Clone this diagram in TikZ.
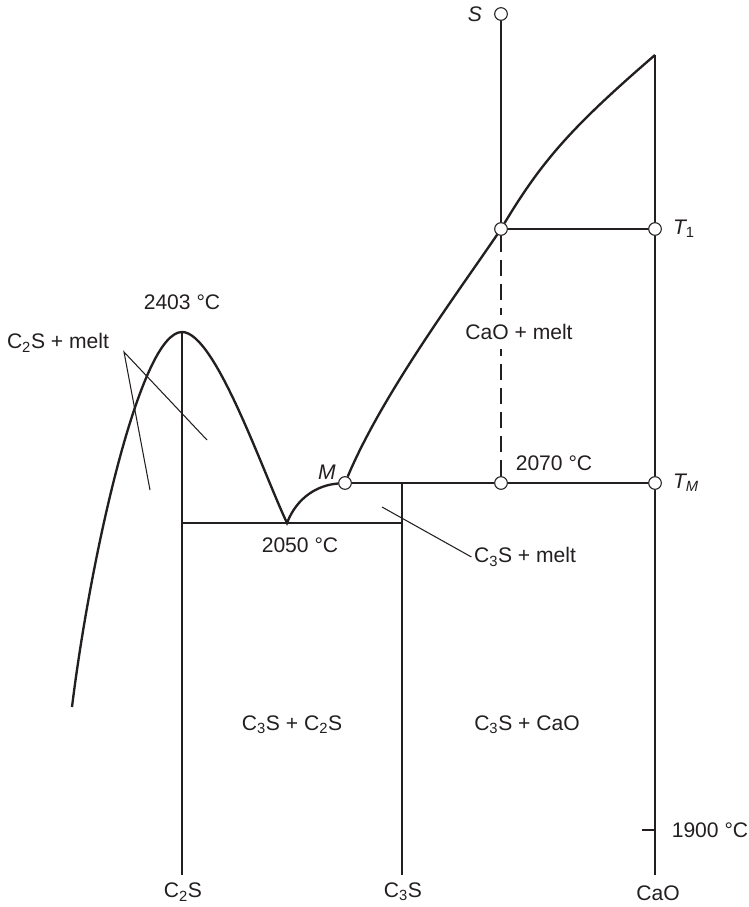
\documentclass[tikz,border=0pt]{standalone}
\usepackage{fontspec}
\setmainfont{Liberation Sans}
\usetikzlibrary{positioning}
\definecolor{PDInk}{HTML}{231F20}
\tikzset{
  tie/.style={PDInk,line width=1.1pt},
  liquidus/.style={PDInk,line width=2pt},
  caoline/.style={PDInk,line width=1.7pt},
  tiedash/.style={tie,dash pattern=on 0.48cm off 0.24cm},
  leader/.style={PDInk,line width=0.9pt},
  pt/.style={circle,draw=PDInk,fill=white,line width=0.9pt,minimum size=0.38cm,inner sep=0pt},
  lbl/.style={text=PDInk,font=\fontsize{18}{22}\selectfont,inner sep=2pt},
  ptlbl/.style={lbl,font=\fontsize{18}{22}\selectfont\itshape,inner sep=0pt},
}
\begin{document}
\begin{tikzpicture}[x=0.03cm,y=-0.03cm]
    \useasboundingbox (0,0) rectangle (748,907);

    \node[pt] (S) at (501,14) {};
    \node[pt] (X1) at (501,229) {};
    \node[pt] (T1) at (655,229) {};
    \node[pt] (M) at (345,483) {};
    \node[pt] (X2) at (501,483) {};
    \node[pt] (TM) at (655,483) {};

    \coordinate (peak) at (182,332);
    \coordinate (eut) at (287,523);
    \coordinate (caotop) at (655,55);
    \coordinate (caobot) at (655,875);
    \coordinate (c2sbot) at (182,875);
    \coordinate (c3stop) at (402,483);
    \coordinate (c3sbot) at (402,875);

    \draw[liquidus] (72,707) .. controls (90,560) and (140,332) .. (peak)
      .. controls (215,332) and (262,470) .. (eut)
      .. controls (297,497) and (318,485) .. (M);
    \draw[liquidus] (M) .. controls (382,395) and (456,295) .. (X1);
    \draw[liquidus] (X1) .. controls (543,159) and (574,125) .. (caotop);

    \draw[caoline] (caotop) -- (T1) (T1) -- (TM) (TM) -- (caobot);
    \draw[tie] (S) -- (X1) -- (T1);
    \draw[tie] (M) -- (X2) -- (TM);
    \draw[tie] (peak) -- (c2sbot);
    \draw[tie] (c3stop) -- (c3sbot);
    \draw[tie] (peak |- eut) -- (c3stop |- eut);

    \node[ptlbl,left=0.36cm of S] (Slbl) {S};
    \node[ptlbl,right=0.33cm of T1] (T1lbl) {T\textsubscript{\upshape 1}};
    \node[ptlbl,right=0.33cm of TM] (TMlbl) {T\textsubscript{M}};
    \node[ptlbl] (Mlbl) at (327,472) {M};

    \node[lbl] (t2403) at (182,302) {2403 °C};
    \node[lbl] (c2smelt) at (58,343) {C\textsubscript{2}S + melt};
    \node[lbl,inner xsep=1pt,inner ysep=8pt] (caomelt) at (519,332) {CaO + melt};
    \node[lbl] (t2070) at (554,463) {2070 °C};
    \node[lbl] (t2050) at (300,545) {2050 °C};
    \node[lbl] (c3smelt) at (525,557) {C\textsubscript{3}S + melt};
    \node[lbl] (c3sc2s) at (292,725) {C\textsubscript{3}S + C\textsubscript{2}S};
    \node[lbl] (c3scao) at (527,725) {C\textsubscript{3}S + CaO};
    \node[lbl] (t1900) at (710,830) {1900 °C};
    \node[lbl] (c2s) at (183,892) {C\textsubscript{2}S};
    \node[lbl] (c3s) at (403,892) {C\textsubscript{3}S};
    \node[lbl] (cao) at (658,893) {CaO};

    \draw[tiedash] (X1) -- (X1 |- caomelt.north);
    \draw[tiedash] (X2) -- (X2 |- caomelt.south);

    \coordinate (c2sfoot) at (124,352);
    \coordinate (c2sa) at (150,490);
    \coordinate (c2sb) at (207,440);
    \draw[leader] (c2sa) -- (c2sfoot) -- (c2sb);
    \coordinate (c3sa) at (382,507);
    \draw[leader] (c3sa) -- (c3smelt.west);
    \coordinate (tick1900) at (642,830);
    \draw[tie] (tick1900) -- (tick1900 -| caobot);
\end{tikzpicture}
\end{document}
